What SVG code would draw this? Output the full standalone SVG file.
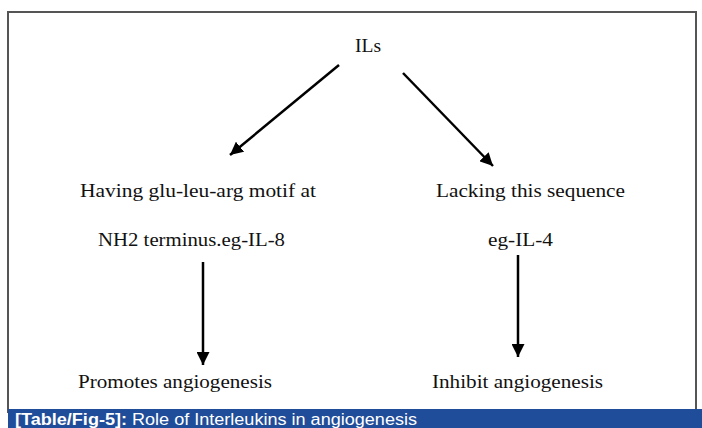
<svg xmlns="http://www.w3.org/2000/svg" width="702" height="428" viewBox="0 0 702 428">
<defs>
<style>
.t{font-family:"Liberation Serif","Times New Roman",serif;font-size:19.5px;fill:#111;}
.c{stroke:#000;stroke-width:2.5;fill:none;}
.cap{font-family:"Liberation Sans",Arial,sans-serif;font-size:16px;fill:#fff;}
</style>
<marker id="ah" markerWidth="13" markerHeight="13" refX="12" refY="6" orient="auto" markerUnits="userSpaceOnUse" viewBox="0 0 12 12">
<path d="M0,0 L12,6 L0,12 z" fill="#000"/>
</marker>
</defs>
<rect x="0" y="0" width="702" height="428" fill="#fff"/>
<rect x="8" y="12" width="688" height="400" fill="#fff" stroke="#555" stroke-width="2"/>
<g id="connectors">
<line class="c" x1="339" y1="65" x2="230" y2="155" marker-end="url(#ah)"/>
<line class="c" x1="403" y1="73" x2="493" y2="166" marker-end="url(#ah)"/>
<line class="c" x1="203" y1="262" x2="203" y2="365" marker-end="url(#ah)"/>
<line class="c" x1="518" y1="255" x2="518" y2="357" marker-end="url(#ah)"/>
</g>
<g id="ils"><text class="t" x="368" y="52" text-anchor="middle" font-size="20.5">ILs</text></g>
<g id="having">
<text class="t" x="80" y="197" textLength="236" lengthAdjust="spacingAndGlyphs">Having glu-leu-arg motif at</text>
<text class="t" x="98" y="246" textLength="187" lengthAdjust="spacingAndGlyphs">NH2 terminus.eg-IL-8</text>
</g>
<g id="lacking">
<text class="t" x="436" y="197" textLength="189" lengthAdjust="spacingAndGlyphs">Lacking this sequence</text>
<text class="t" x="488" y="246" textLength="65" lengthAdjust="spacingAndGlyphs">eg-IL-4</text>
</g>
<g id="promotes"><text class="t" x="78" y="388" textLength="194" lengthAdjust="spacingAndGlyphs">Promotes angiogenesis</text></g>
<g id="inhibit"><text class="t" x="432" y="388" textLength="171" lengthAdjust="spacingAndGlyphs">Inhibit angiogenesis</text></g>
<g id="caption">
<rect x="8" y="409" width="694" height="19" fill="#1f4d99"/>
<text class="cap" x="15" y="425" textLength="402" lengthAdjust="spacingAndGlyphs"><tspan font-weight="bold">[Table/Fig-5]:</tspan> Role of Interleukins in angiogenesis</text>
</g>
</svg>
